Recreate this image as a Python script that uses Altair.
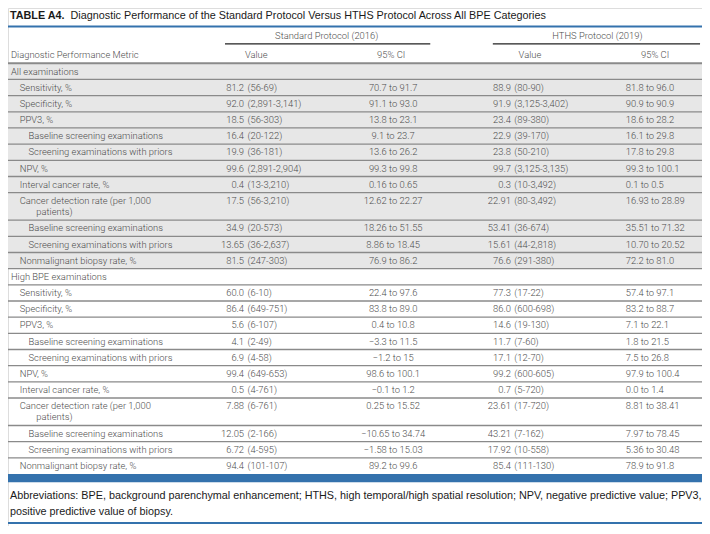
import altair as alt
import pandas as pd

# ---------------- data ----------------
title_bold = "TABLE A4."
title_rest = "Diagnostic Performance of the Standard Protocol Versus HTHS Protocol Across All BPE Categories"
group_headers = ["Standard Protocol (2016)", "HTHS Protocol (2019)"]
col_headers = ["Diagnostic Performance Metric", "Value", "95% CI", "Value", "95% CI"]

sections = ["All", "All", "All", "All", "All", "All", "All", "All", "All", "All", "All", "All",
            "High", "High", "High", "High", "High", "High", "High", "High", "High", "High", "High", "High"]

labels = [
    "All examinations",
    "Sensitivity, %",
    "Specificity, %",
    "PPV3, %",
    "Baseline screening examinations",
    "Screening examinations with priors",
    "NPV, %",
    "Interval cancer rate, %",
    "Cancer detection rate (per 1,000\npatients)",
    "Baseline screening examinations",
    "Screening examinations with priors",
    "Nonmalignant biopsy rate, %",
    "High BPE examinations",
    "Sensitivity, %",
    "Specificity, %",
    "PPV3, %",
    "Baseline screening examinations",
    "Screening examinations with priors",
    "NPV, %",
    "Interval cancer rate, %",
    "Cancer detection rate (per 1,000\npatients)",
    "Baseline screening examinations",
    "Screening examinations with priors",
    "Nonmalignant biopsy rate, %",
]
levels = [0, 1, 1, 1, 2, 2, 1, 1, 1, 2, 2, 1,
          0, 1, 1, 1, 2, 2, 1, 1, 1, 2, 2, 1]

std_value = [
    "", "81.2 (56-69)", "92.0 (2,891-3,141)", "18.5 (56-303)", "16.4 (20-122)", "19.9 (36-181)",
    "99.6 (2,891-2,904)", "0.4 (13-3,210)", "17.5 (56-3,210)", "34.9 (20-573)", "13.65 (36-2,637)",
    "81.5 (247-303)",
    "", "60.0 (6-10)", "86.4 (649-751)", "5.6 (6-107)", "4.1 (2-49)", "6.9 (4-58)",
    "99.4 (649-653)", "0.5 (4-761)", "7.88 (6-761)", "12.05 (2-166)", "6.72 (4-595)",
    "94.4 (101-107)",
]
std_ci = [
    "", "70.7 to 91.7", "91.1 to 93.0", "13.8 to 23.1", "9.1 to 23.7", "13.6 to 26.2",
    "99.3 to 99.8", "0.16 to 0.65", "12.62 to 22.27", "18.26 to 51.55", "8.86 to 18.45",
    "76.9 to 86.2",
    "", "22.4 to 97.6", "83.8 to 89.0", "0.4 to 10.8", "\u22123.3 to 11.5", "\u22121.2 to 15",
    "98.6 to 100.1", "\u22120.1 to 1.2", "0.25 to 15.52", "\u221210.65 to 34.74", "\u22121.58 to 15.03",
    "89.2 to 99.6",
]
hths_value = [
    "", "88.9 (80-90)", "91.9 (3,125-3,402)", "23.4 (89-380)", "22.9 (39-170)", "23.8 (50-210)",
    "99.7 (3,125-3,135)", "0.3 (10-3,492)", "22.91 (80-3,492)", "53.41 (36-674)", "15.61 (44-2,818)",
    "76.6 (291-380)",
    "", "77.3 (17-22)", "86.0 (600-698)", "14.6 (19-130)", "11.7 (7-60)", "17.1 (12-70)",
    "99.2 (600-605)", "0.7 (5-720)", "23.61 (17-720)", "43.21 (7-162)", "17.92 (10-558)",
    "85.4 (111-130)",
]
hths_ci = [
    "", "81.8 to 96.0", "90.9 to 90.9", "18.6 to 28.2", "16.1 to 29.8", "17.8 to 29.8",
    "99.3 to 100.1", "0.1 to 0.5", "16.93 to 28.89", "35.51 to 71.32", "10.70 to 20.52",
    "72.2 to 81.0",
    "", "57.4 to 97.1", "83.2 to 88.7", "7.1 to 22.1", "1.8 to 21.5", "7.5 to 26.8",
    "97.9 to 100.4", "0.0 to 1.4", "8.81 to 38.41", "7.97 to 78.45", "5.36 to 30.48",
    "78.9 to 91.8",
]
footnote = [
    "Abbreviations: BPE, background parenchymal enhancement; HTHS, high temporal/high spatial resolution; NPV, negative predictive value; PPV3,",
    "positive predictive value of biopsy.",
]

# ---------------- layout (reference pixel space) ----------------
W_REF, H_REF = 710, 534
ROW_H = 16.67
ROW_H2 = 28.33
TOP0 = 57.0
X_LABEL = [3, 12, 21]
X_CONT = 29
X_STD_NUM, X_STD_PAR = 241.5, 245.0
X_STD_CI = 394.0
X_HT_NUM, X_HT_PAR = 514.5, 518.0
X_HT_CI = 632.0

BODY_FONT = "Roboto"
BODY_SIZE = 9.4
BODY_COLOR = "#4d4d4d"
SERIF_FONT = "Liberation Sans"
BLUE = "#3472ad"

xs = alt.Scale(domain=[0, W_REF], range=[0, 694], zero=False, nice=False)
ys = alt.Scale(domain=[0, H_REF], range=[0, 518], zero=False, nice=False)

# row geometry
tops, bottoms = [], []
y = TOP0
for lab in labels:
    h = ROW_H2 if "\n" in lab else ROW_H
    tops.append(y)
    bottoms.append(y + h)
    y += h
END = y

rows = pd.DataFrame({"section": sections, "label": labels, "level": levels,
                     "top": tops, "bottom": bottoms,
                     "x0": 0, "x1": W_REF})

text_recs = []

def add(x, yy, text, align="left", style="body"):
    text_recs.append({"x": x, "y": yy, "text": text, "align": align, "style": style})

add(2, 8, title_bold, "left", "title_bold")
add(64, 8, title_rest, "left", "title")
add(326, 29, group_headers[0], "center", "body")
add(603, 29, group_headers[1], "center", "body")
add(3, 48.5, col_headers[0], "left", "body")
add(254, 48.5, col_headers[1], "center", "body")
add(392, 48.5, col_headers[2], "center", "body")
add(534, 48.5, col_headers[3], "center", "body")
add(662, 48.5, col_headers[4], "center", "body")

for i, lab in enumerate(labels):
    yc = tops[i] + 8.5
    parts = lab.split("\n")
    add(X_LABEL[levels[i]], yc, parts[0], "left", "body")
    if len(parts) > 1:
        add(X_CONT, tops[i] + 20.0, parts[1], "left", "body")
    if std_value[i]:
        num, par = std_value[i].split(" ", 1)
        add(X_STD_NUM, yc, num, "right", "body")
        add(X_STD_PAR, yc, par, "left", "body")
        add(X_STD_CI, yc, std_ci[i], "center", "body")
        num, par = hths_value[i].split(" ", 1)
        add(X_HT_NUM, yc, num, "right", "body")
        add(X_HT_PAR, yc, par, "left", "body")
        add(X_HT_CI, yc, hths_ci[i], "left", "body")

add(2, 503, footnote[0], "left", "foot")
add(2, 520, footnote[1], "left", "foot")

texts = pd.DataFrame(text_recs)

styles = {
    "body": dict(font=BODY_FONT, fontSize=BODY_SIZE, fontWeight=300, color=BODY_COLOR),
    "title_bold": dict(font=SERIF_FONT, fontSize=10.8, fontWeight="bold", color="#1a1a1a"),
    "title": dict(font=SERIF_FONT, fontSize=10.8, fontWeight="normal", color="#1a1a1a"),
    "foot": dict(font=SERIF_FONT, fontSize=10.8, fontWeight="normal", color="#1a1a1a"),
}

def X(f):
    return alt.X(f"{f}:Q", scale=xs, axis=None)

def Y(f):
    return alt.Y(f"{f}:Q", scale=ys, axis=None)

layers = []

# gray band for first section
band = alt.Chart(rows[rows.section == "All"]).mark_rect(color="#e7e7e7").encode(
    x=X("x0"), x2="x1", y=Y("top"), y2="bottom")
layers.append(band)

# separators
sep_y = [TOP0] + bottoms
seps = pd.DataFrame({"y": sep_y, "x0": 0, "x1": W_REF,
                     "w": [2.0] + [1.3] * len(bottoms)})
seps = seps[seps.y < END - 0.1]
layers.append(alt.Chart(seps).mark_rule(color="#8a8a8a").encode(
    x=X("x0"), x2="x1", y=Y("y"), strokeWidth=alt.StrokeWidth("w:Q", scale=None)))

# spanner underlines
spans = pd.DataFrame({"x0": [222, 496], "x1": [432, 708], "y": [37, 37]})
layers.append(alt.Chart(spans).mark_rule(color="#222222", strokeWidth=1.2).encode(
    x=X("x0"), x2="x1", y=Y("y")))

# blue rules and bar
blue_lines = pd.DataFrame({"x0": [0, 0], "x1": [W_REF, W_REF], "y": [19, 531]})
layers.append(alt.Chart(blue_lines).mark_rule(color=BLUE, strokeWidth=2).encode(
    x=X("x0"), x2="x1", y=Y("y")))
blue_bar = pd.DataFrame({"x0": [0], "x1": [W_REF], "y0": [END], "y1": [END + 8.5]})
layers.append(alt.Chart(blue_bar).mark_rect(color=BLUE).encode(
    x=X("x0"), x2="x1", y=Y("y0"), y2="y1"))

# texts
for (style, align), grp in texts.groupby(["style", "align"]):
    st = styles[style]
    layers.append(alt.Chart(grp).mark_text(
        align=align, baseline="middle", font=st["font"], fontSize=st["fontSize"],
        fontWeight=st["fontWeight"], color=st["color"]).encode(
        x=X("x"), y=Y("y"), text="text:N"))

chart = alt.layer(*layers).properties(
    width=694, height=518, padding=0,
    autosize=alt.AutoSizeParams(type="none"),
).configure_view(stroke=None).configure(background="white")

chart.save("out.html", embed_options={"renderer": "svg", "actions": False})
